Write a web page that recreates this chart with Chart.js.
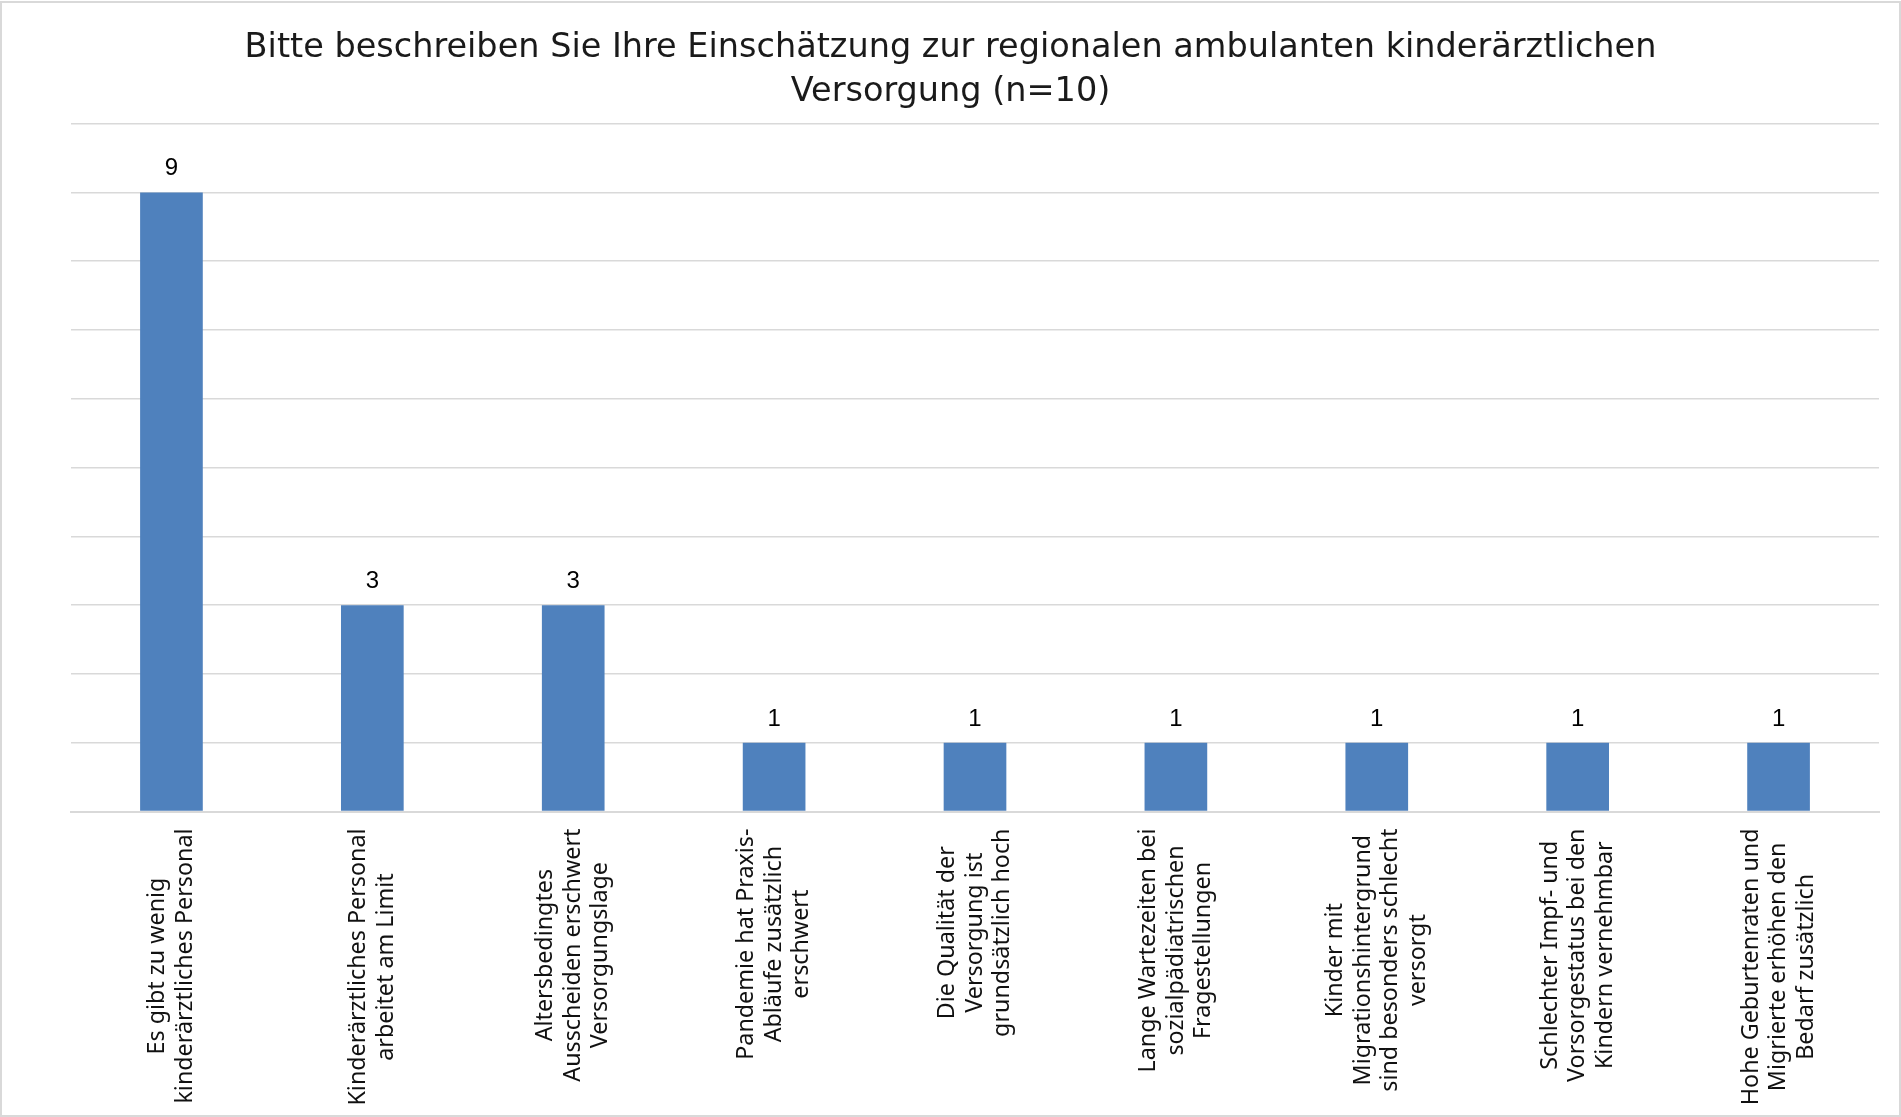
<!DOCTYPE html>
<html><head><meta charset="utf-8">
<script src="https://cdn.jsdelivr.net/npm/chart.js@4.4.1/dist/chart.umd.min.js"></script>
<style>html,body{margin:0;padding:0;background:#fff;overflow:hidden}</style>
</head><body>
<canvas id="c" width="1901" height="1117"></canvas>
<script>
// ---- data ----
const titleLines = [
  "Bitte beschreiben Sie Ihre Einschätzung zur regionalen ambulanten kinderärztlichen",
  "Versorgung (n=10)"
];
const categories = [
  ["Es gibt zu wenig", "kinderärztliches Personal"],
  ["Kinderärztliches Personal", "arbeitet am Limit"],
  ["Altersbedingtes", "Ausscheiden erschwert", "Versorgungslage"],
  ["Pandemie hat Praxis-", "Abläufe zusätzlich", "erschwert"],
  ["Die Qualität der", "Versorgung ist", "grundsätzlich hoch"],
  ["Lange Wartezeiten bei", "sozialpädiatrischen", "Fragestellungen"],
  ["Kinder mit", "Migrationshintergrund", "sind besonders schlecht", "versorgt"],
  ["Schlechter Impf- und", "Vorsorgestatus bei den", "Kindern vernehmbar"],
  ["Hohe Geburtenraten und", "Migrierte erhöhen den", "Bedarf zusätzlich"]
];
const values = [9, 3, 3, 1, 1, 1, 1, 1, 1];
const yMin = 0, yMax = 10, yStep = 1;

// ---- plugins ----
const frame = {
  id: 'frame',
  beforeDraw(chart) {
    const ctx = chart.ctx;
    ctx.save();
    ctx.fillStyle = '#fff';
    ctx.fillRect(0, 0, chart.width, chart.height);
    ctx.strokeStyle = '#d9d9d9';
    ctx.lineWidth = 2;
    ctx.strokeRect(1, 2, chart.width - 2, chart.height - 3);
    ctx.restore();
  }
};

const valueLabels = {
  id: 'valueLabels',
  afterDatasetsDraw(chart) {
    const ctx = chart.ctx;
    const meta = chart.getDatasetMeta(0);
    ctx.save();
    ctx.font = '24px "Liberation Sans", Arial, sans-serif';
    ctx.fillStyle = '#000';
    ctx.textAlign = 'center';
    ctx.textBaseline = 'alphabetic';
    meta.data.forEach((bar, i) => {
      ctx.fillText(String(chart.data.datasets[0].data[i]), bar.x, bar.y - 17);
    });
    ctx.restore();
  }
};

const rotatedLabels = {
  id: 'rotatedLabels',
  afterDraw(chart) {
    const ctx = chart.ctx;
    const xs = chart.scales.x;
    const lh = 27.6;
    const gap = 17;
    ctx.save();
    ctx.font = '23.3px "Noto Sans", sans-serif';
    ctx.fillStyle = '#111';
    ctx.textAlign = 'center';
    ctx.textBaseline = 'middle';
    chart.data.labels.forEach((lines, i) => {
      const cx = xs.getPixelForValue(i);
      const maxW = Math.max(...lines.map(l => ctx.measureText(l).width));
      const cy = chart.chartArea.bottom + gap + maxW / 2;
      ctx.save();
      ctx.translate(cx, cy);
      ctx.rotate(-Math.PI / 2);
      const n = lines.length;
      lines.forEach((l, k) => {
        ctx.fillText(l, 0, (k - (n - 1) / 2) * lh);
      });
      ctx.restore();
    });
    ctx.restore();
  }
};

new Chart(document.getElementById('c'), {
  type: 'bar',
  data: {
    labels: categories,
    datasets: [{
      data: values,
      backgroundColor: '#4F81BD',
      borderWidth: 0,
      barPercentage: 0.312,
      categoryPercentage: 1
    }]
  },
  options: {
    responsive: false,
    devicePixelRatio: 1,
    animation: false,
    layout: { padding: 0 },
    plugins: {
      legend: { display: false },
      tooltip: { enabled: false },
      title: {
        display: true,
        text: titleLines,
        color: '#1a1a1a',
        font: { family: '"DejaVu Sans", sans-serif', size: 33.5, weight: 'normal', lineHeight: 1.3 },
        padding: { top: 26.5, bottom: 10 }
      }
    },
    scales: {
      x: {
        grid: { display: false, drawTicks: false },
        border: { display: true, color: '#d9d9d9', width: 2 },
        ticks: { display: false },
        afterFit(scale) { scale.height = 305.5; }
      },
      y: {
        min: yMin, max: yMax,
        ticks: { display: false, stepSize: yStep },
        grid: { color: '#d9d9d9', lineWidth: 1.5, drawTicks: false },
        border: { display: false },
        afterFit(scale) { scale.width = 71; }
      },
      yRight: {
        position: 'right',
        display: true,
        ticks: { display: false },
        grid: { display: false, drawTicks: false },
        border: { display: false },
        afterFit(scale) { scale.width = 22; }
      }
    }
  },
  plugins: [frame, valueLabels, rotatedLabels]
});
</script>
</body></html>
